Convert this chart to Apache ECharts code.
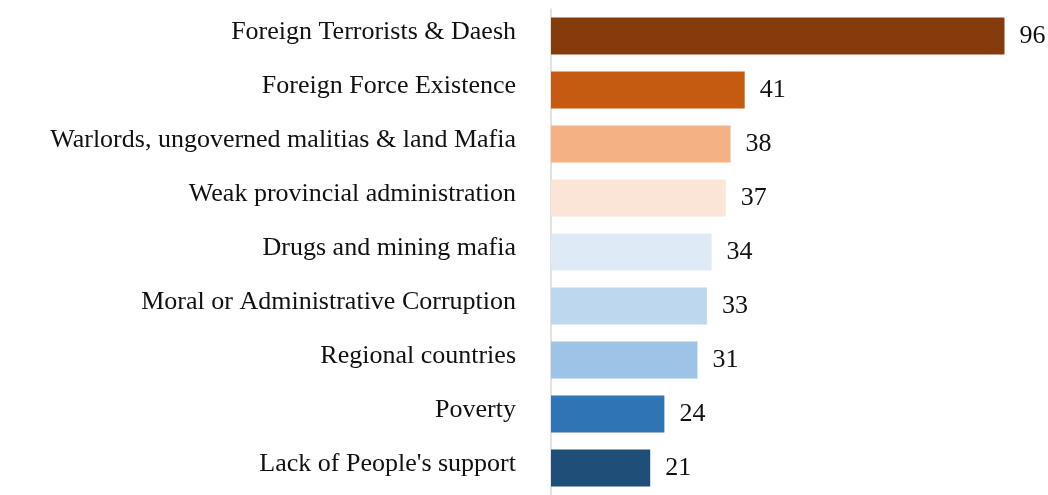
<!DOCTYPE html>
<html>
<head>
<meta charset="utf-8">
<script src="https://cdn.jsdelivr.net/npm/echarts@6/dist/echarts.min.js"></script>
<style>
  html, body { margin: 0; padding: 0; background: #fff; }
  #chart { width: 1048px; height: 495px; }
</style>
</head>
<body>
<div id="chart"></div>
<script>
// Categories listed bottom to top (category axis runs upward)
const categories = [
  "Lack of People's support",
  "Poverty",
  "Regional countries",
  "Moral or Administrative Corruption",
  "Drugs and mining mafia",
  "Weak provincial administration",
  "Warlords, ungoverned malitias & land Mafia",
  "Foreign Force Existence",
  "Foreign Terrorists & Daesh"
];
const values = [21, 24, 31, 33, 34, 37, 38, 41, 96];
const barColors = [
  '#1F4E79', '#2E75B6', '#9DC3E6', '#BDD7EE', '#DEEBF7',
  '#FBE5D6', '#F4B183', '#C55A11', '#843C0C'
];

const fontFamily = '"Liberation Serif", "DejaVu Serif", serif';

const chart = echarts.init(document.getElementById('chart'), null, { renderer: 'canvas' });
chart.setOption({
  animation: false,
  backgroundColor: '#ffffff',
  grid: { left: 551, top: 9, width: 472.4, height: 492, containLabel: false },
  xAxis: {
    type: 'value',
    min: 0,
    max: 100,
    show: false
  },
  yAxis: {
    type: 'category',
    data: categories,
    axisLine: { show: true, lineStyle: { color: '#d9d9d9', width: 1.5 } },
    axisTick: { show: false },
    axisLabel: {
      color: '#111111',
      fontFamily: fontFamily,
      fontSize: 26,
      margin: 35,
      verticalAlign: 'bottom',
      lineHeight: 8
    }
  },
  series: [{
    type: 'bar',
    data: values.map((v, i) => ({ value: v, itemStyle: { color: barColors[i] } })),
    barWidth: 37,
    label: {
      show: true,
      position: 'right',
      distance: 15,
      color: '#111111',
      fontFamily: fontFamily,
      fontSize: 26
    }
  }]
});
</script>
</body>
</html>
